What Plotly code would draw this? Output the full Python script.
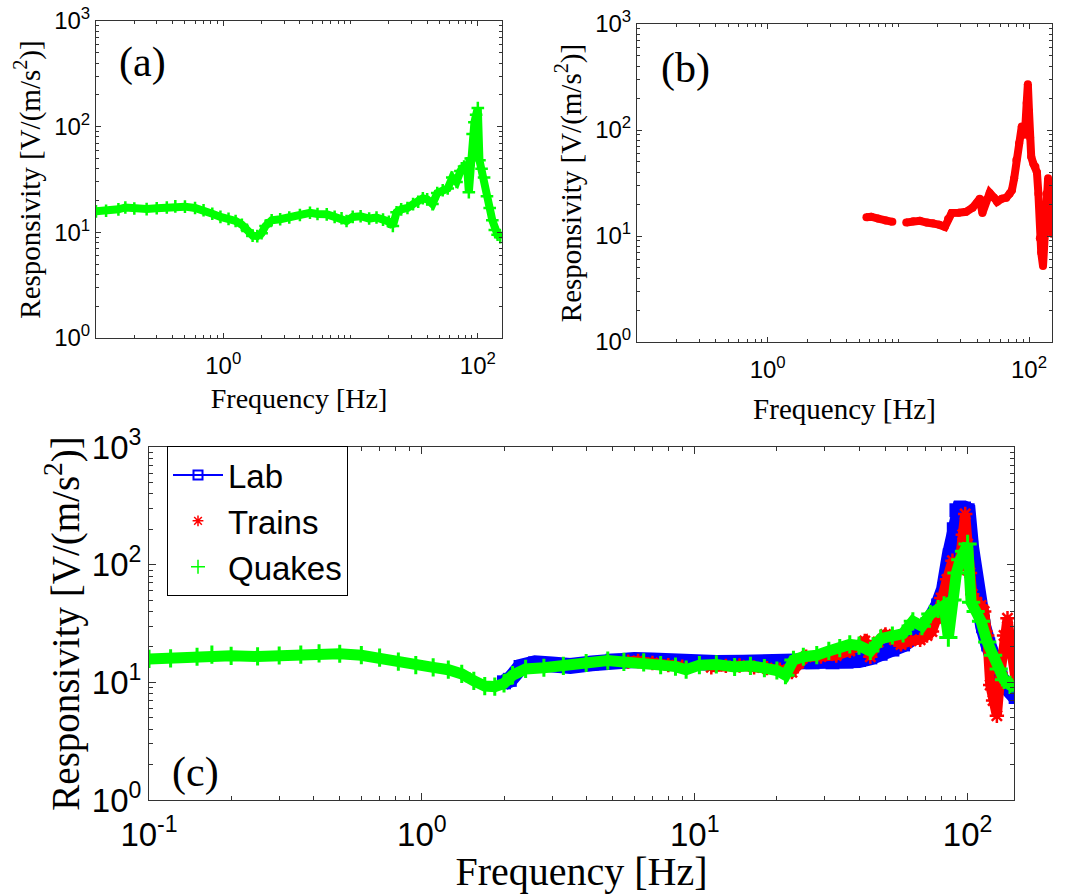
import plotly.graph_objects as go

# ---------------- data ----------------
# Quakes (green) : panel (a) and panel (c)
quake_freq = [0.1, 0.12, 0.15, 0.17, 0.2, 0.25, 0.3, 0.36, 0.42, 0.5, 0.6, 0.7, 0.82, 0.95,
              1.1, 1.25, 1.4, 1.55, 1.7, 1.85, 2.0, 2.15, 2.4, 2.8, 3.3, 4.0, 4.8, 5.5, 6.5,
              7.5, 8.5, 9.3, 10.4, 12, 14, 16, 18, 20, 21.5, 23, 25, 28, 31, 34, 37, 40, 44,
              48, 53, 58, 63, 68, 73, 78, 82, 85, 88, 91, 94, 97, 100, 103, 107, 112, 118,
              124, 130, 136, 143, 150]
quake_resp = [15.8, 16.0, 16.5, 17.2, 16.8, 16.6, 16.9, 17.2, 17.6, 17.5, 17.0, 16.2, 15.0, 14.0,
              13.4, 12.8, 11.8, 10.3, 9.3, 9.2, 9.8, 11.5, 13.0, 13.3, 13.8, 14.6, 15.3, 14.9, 14.8,
              14.0, 13.6, 12.8, 14.0, 14.2, 13.5, 13.8, 13.2, 12.6, 11.5, 15.5, 16.5, 17.0, 18.5,
              19.5, 21.0, 20.5, 18.5, 23.5, 25.0, 26.0, 33.0, 30.0, 38.0, 42.0, 45.0, 24.0, 50.0,
              85.0, 110.0, 130.0, 150.0, 48.0, 40.0, 33.0, 22.0, 17.0, 13.0, 10.5, 9.5, 9.0]

# Trains (red) : panel (b) and panel (c)   (None = gap in the record)
train_freq = [5.7, 6.2, 7.0, 8.0, 9.0, None, 11.5, 13, 14.6, 16.5, 18.4, 20.5, 22.7, 24, 25.6,
              29, 33, 37, 40, 42, 44, 47, 50, 54, 57, 62, 67, 71, 74, 77, 80, 84, 88, 91, 93,
              96, 98, 100, 102, 104, 108, 112, 115, 118, 121, 124, 128, 132, 136, 140, 145, 150]
train_resp = [15.0, 15.2, 14.6, 14.0, 13.6, None, 13.4, 13.8, 13.9, 13.4, 13.2, 12.8, 12.2, 14.5,
              16.5, 16.6, 16.9, 18.5, 20.5, 22.5, 16.5, 22.0, 25.5, 23.0, 21.0, 22.5, 23.0, 25.0,
              27.0, 35.0, 52.0, 75.0, 108.0, 100.0, 90.0, 180.0, 270.0, 150.0, 85.0, 56.0, 48.0,
              45.0, 40.0, 25.0, 9.5, 7.0, 5.2, 12.0, 25.0, 35.0, 18.0, 10.5]

# Lab (blue) : panel (c)
lab_freq = [2.0, 2.1, 2.3, 2.6, 3.0, 3.5, 4.2, 5.0, 6.0, 7.0, 8.5, 10, 12, 15, 18, 22, 27, 32,
            36, 40, 44, 48, 53, 58, 63, 68, 73, 78, 82, 86, 89, 91, 94, 97, 100, 103, 106, 110,
            114, 119, 125, 132, 140, 150]
lab_resp = [10.0, 10.5, 13.5, 14.5, 14.2, 13.8, 14.5, 15.3, 15.5, 15.3, 14.8, 14.6, 14.6, 14.7,
            14.8, 14.8, 14.8, 14.8, 15.0, 15.5, 16.3, 17.5, 19.0, 21.0, 24.0, 28.0, 34.0, 45.0,
            62.0, 120.0, 200.0, 290.0, 300.0, 300.0, 290.0, 140.0, 75.0, 45.0, 30.0, 21.0, 15.0,
            11.0, 9.0, 7.5]

# ticks
y_tick_vals = [1, 10, 100, 1000]
y_tick_text = ["10<sup>0</sup>", "10<sup>1</sup>", "10<sup>2</sup>", "10<sup>3</sup>"]
x_tick_vals_ab = [1, 100]
x_tick_text_ab = ["10<sup>0</sup>", "10<sup>2</sup>"]
x_tick_vals_c = [0.1, 1, 10, 100]
x_tick_text_c = ["10<sup>-1</sup>", "10<sup>0</sup>", "10<sup>1</sup>", "10<sup>2</sup>"]
minor_x_ab = [m * 10 ** k for k in (-1, 0, 1) for m in range(2, 10)] + [10]
minor_x_c = [m * 10 ** k for k in (-1, 0, 1) for m in range(2, 10)]
minor_y = [m * 10 ** k for k in (0, 1, 2) for m in range(2, 10)]

GREEN = "#00ff00"
RED = "#ff0000"
BLUE = "#0000ff"
SANS = "Liberation Sans"
SERIF = "Liberation Serif"
AXC = "#333333"

fig = go.Figure()

# ---- panel (a)
fig.add_trace(go.Scatter(x=quake_freq, y=quake_resp, mode="lines+markers",
                         line=dict(color=GREEN, width=8),
                         marker=dict(symbol="cross-thin", size=9, color=GREEN,
                                     line=dict(color=GREEN, width=2.5)),
                         xaxis="x", yaxis="y", showlegend=False))
# ---- panel (b)
fig.add_trace(go.Scatter(x=train_freq, y=train_resp, mode="lines+markers",
                         line=dict(color=RED, width=8),
                         marker=dict(symbol="circle", size=8, color=RED),
                         connectgaps=False,
                         xaxis="x2", yaxis="y2", showlegend=False))
# ---- panel (c)
fig.add_trace(go.Scatter(x=lab_freq, y=lab_resp, mode="lines+markers",
                         line=dict(color=BLUE, width=16),
                         marker=dict(symbol="square", size=14, color=BLUE),
                         xaxis="x3", yaxis="y3", showlegend=False))
fig.add_trace(go.Scatter(x=train_freq, y=train_resp, mode="lines+markers",
                         line=dict(color=RED, width=10),
                         marker=dict(symbol="asterisk-open", size=12, color=RED,
                                     line=dict(color=RED, width=2.5)),
                         xaxis="x3", yaxis="y3", showlegend=False))
fig.add_trace(go.Scatter(x=quake_freq, y=quake_resp, mode="lines+markers",
                         line=dict(color=GREEN, width=11),
                         marker=dict(symbol="cross-thin", size=13, color=GREEN,
                                     line=dict(color=GREEN, width=3)),
                         xaxis="x3", yaxis="y3", showlegend=False))

# legend entries
fig.add_trace(go.Scatter(x=[None], y=[None], mode="lines+markers", name="Lab",
                         line=dict(color=BLUE, width=2),
                         marker=dict(symbol="square-open", size=9, color=BLUE,
                                     line=dict(color=BLUE, width=2)),
                         xaxis="x3", yaxis="y3"))
fig.add_trace(go.Scatter(x=[None], y=[None], mode="markers", name="Trains",
                         marker=dict(symbol="asterisk-open", size=9, color=RED,
                                     line=dict(color=RED, width=1.5)),
                         xaxis="x3", yaxis="y3"))
fig.add_trace(go.Scatter(x=[None], y=[None], mode="markers", name="Quakes",
                         marker=dict(symbol="cross-thin-open", size=10, color=GREEN,
                                     line=dict(color=GREEN, width=1.5)),
                         xaxis="x3", yaxis="y3"))


def xax(domain, anchor, rng, tv, tt, minor_vals, tick_size, title_size, standoff,
        major_len, minor_len, lab_off):
    return dict(type="log", domain=domain, anchor=anchor, range=rng, automargin=False,
                tickmode="array", tickvals=tv, ticktext=tt,
                ticks="inside", ticklen=major_len, tickwidth=1, tickcolor=AXC,
                ticklabelstandoff=lab_off,
                minor=dict(tickmode="array", tickvals=minor_vals, ticks="inside",
                           ticklen=minor_len, tickwidth=1, tickcolor=AXC),
                showline=True, linecolor=AXC, linewidth=1, mirror="allticks",
                showgrid=False, zeroline=False,
                tickfont=dict(family=SANS, size=tick_size, color="black"),
                title=dict(text="Frequency [Hz]", standoff=standoff,
                           font=dict(family=SERIF, size=title_size, color="black")))


def yax(domain, anchor, tick_size, title_size, standoff, major_len, minor_len):
    return dict(type="log", domain=domain, anchor=anchor, range=[0, 3], automargin=False,
                tickmode="array", tickvals=y_tick_vals, ticktext=y_tick_text,
                ticks="inside", ticklen=major_len, tickwidth=1, tickcolor=AXC,
                minor=dict(tickmode="array", tickvals=minor_y, ticks="inside",
                           ticklen=minor_len, tickwidth=1, tickcolor=AXC),
                showline=True, linecolor=AXC, linewidth=1, mirror="allticks",
                showgrid=False, zeroline=False,
                tickfont=dict(family=SANS, size=tick_size, color="black"),
                title=dict(text="Responsivity [V/(m/s<sup>2</sup>)]", standoff=standoff,
                           font=dict(family=SERIF, size=title_size, color="black")))


W, H = 1068, 894


def dx(a, b):
    return [a / W, b / W]


def dy(top, bottom):
    return [1 - bottom / H, 1 - top / H]


def label(txt, px, py):
    return dict(text=txt, x=px / W, y=1 - py / H, xref="paper", yref="paper",
                xanchor="center", yanchor="middle", showarrow=False,
                font=dict(family=SERIF, size=42, color="black"))


fig.update_layout(
    width=W, height=H,
    margin=dict(l=0, r=0, t=0, b=0),
    paper_bgcolor="white", plot_bgcolor="white",
    xaxis=xax(dx(96, 502), "y", [-1, 2.19], x_tick_vals_ab, x_tick_text_ab, minor_x_ab,
              24, 28, 10, 5, 3, 6),
    yaxis=yax(dy(21, 338), "x", 24, 29, 5, 5, 3),
    xaxis2=xax(dx(637, 1052), "y2", [-1, 2.176], x_tick_vals_ab, x_tick_text_ab, minor_x_ab,
               24, 29, 16, 5, 3, 6),
    yaxis2=yax(dy(24, 342), "x2", 24, 29, 5, 5, 3),
    xaxis3=xax(dx(149, 1014), "y3", [-1, 2.17], x_tick_vals_c, x_tick_text_c, minor_x_c,
               33, 40, 9, 7, 4, 5),
    yaxis3=yax(dy(447, 800), "x3", 33, 39, 0, 7, 4),
    legend=dict(x=167 / W, y=1 - 446 / H, xanchor="left", yanchor="top",
                bgcolor="white", bordercolor="black", borderwidth=1,
                font=dict(family=SANS, size=33, color="black"),
                itemwidth=50, tracegroupgap=0),
    annotations=[label("(a)", 142, 63), label("(b)", 685, 68), label("(c)", 195, 772)],
)

fig.write_html("out.html", config={"displayModeBar": False},
               post_script="document.body.style.margin='0';")
